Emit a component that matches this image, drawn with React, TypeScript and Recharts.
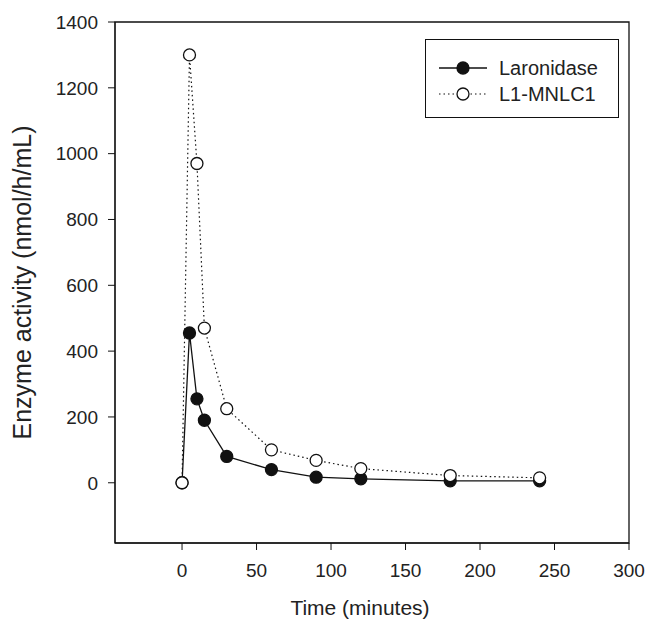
import React from 'react';
import { LineChart, Line, XAxis, YAxis, ReferenceArea, Legend } from 'recharts';

const times = [0, 5, 10, 15, 30, 60, 90, 120, 180, 240];
const laronidase = [0, 455, 255, 190, 80, 40, 17, 12, 6, 6];
const l1mnlc1 = [0, 1300, 970, 470, 225, 100, 68, 43, 22, 15];
const xTicks = [0, 50, 100, 150, 200, 250, 300];
const yTicks = [0, 200, 400, 600, 800, 1000, 1200, 1400];
const seriesNames = ['Laronidase', 'L1-MNLC1'];

const X_MIN = -45;
const X_MAX = 300;
const Y_MIN = -183;
const Y_MAX = 1400;

const ink = '#111';
const textColor = '#222';
const font = '"Liberation Sans", Arial, Helvetica, sans-serif';

const data = times.map((t, i) => ({
  time: t,
  laronidase: laronidase[i],
  l1: l1mnlc1[i],
}));

const LegendBox = () => (
  <div
    style={{
      width: 192,
      height: 77,
      border: `1px solid ${ink}`,
      boxSizing: 'content-box',
      fontFamily: font,
      fontSize: 20,
      color: textColor,
      position: 'relative',
    }}
  >
    {seriesNames.map((name, i) => (
      <div
        key={name}
        style={{
          position: 'absolute',
          left: 12,
          top: 16 + i * 26,
          height: 24,
          display: 'flex',
          alignItems: 'center',
        }}
      >
        <svg width={50} height={24} style={{ marginRight: 11 }}>
          <line
            x1={1}
            x2={49}
            y1={12}
            y2={12}
            stroke={ink}
            strokeWidth={i === 0 ? 1.3 : 1.2}
            strokeDasharray={i === 0 ? undefined : '1.5 3'}
          />
          <circle cx={25} cy={12} r={6} fill={i === 0 ? ink : '#fff'} stroke={ink} strokeWidth={1.3} />
        </svg>
        <span style={{ lineHeight: '24px' }}>{name}</span>
      </div>
    ))}
  </div>
);

export default function App() {
  return (
    <div style={{ position: 'absolute', left: 0, top: 0, background: '#fff' }}>
      <LineChart
        width={649}
        height={625}
        data={data}
        margin={{ top: 22, right: 20, bottom: 0, left: 0 }}
      >
        <XAxis
          type="number"
          dataKey="time"
          domain={[X_MIN, X_MAX]}
          ticks={xTicks}
          allowDataOverflow
          height={82}
          tickSize={7}
          tickMargin={14}
          stroke={ink}
          tick={{ fill: textColor, fontSize: 19, fontFamily: font }}
          label={{
            value: 'Time (minutes)',
            position: 'center',
            dx: -12,
            dy: 24,
            style: { fill: textColor, fontSize: 21, fontFamily: font },
          }}
        />
        <YAxis
          type="number"
          domain={[Y_MIN, Y_MAX]}
          ticks={yTicks}
          allowDataOverflow
          width={115}
          tickSize={7}
          tickMargin={10}
          stroke={ink}
          tick={{ fill: textColor, fontSize: 19, fontFamily: font }}
          label={{
            value: 'Enzyme activity (nmol/h/mL)',
            angle: -90,
            position: 'center',
            dx: -35,
            style: { fill: textColor, fontSize: 25, fontFamily: font, textAnchor: 'middle' },
          }}
        />
        <ReferenceArea
          x1={X_MIN}
          x2={X_MAX}
          y1={Y_MIN}
          y2={Y_MAX}
          fill="none"
          stroke={ink}
          strokeWidth={1.3}
        />
        <Line
          dataKey="laronidase"
          name={seriesNames[0]}
          type="linear"
          stroke={ink}
          strokeWidth={1.3}
          dot={{ r: 6, fill: ink, stroke: ink, strokeWidth: 1.3 }}
          isAnimationActive={false}
        />
        <Line
          dataKey="l1"
          name={seriesNames[1]}
          type="linear"
          stroke={ink}
          strokeWidth={1.2}
          strokeDasharray="1.5 3"
          dot={{ r: 6, fill: '#fff', stroke: ink, strokeWidth: 1.3, strokeDasharray: '' }}
          isAnimationActive={false}
        />
        <Legend
          layout="vertical"
          align="center"
          verticalAlign="middle"
          content={() => <LegendBox />}
          wrapperStyle={{ left: 425, top: 39, width: 194 }}
        />
      </LineChart>
    </div>
  );
}
